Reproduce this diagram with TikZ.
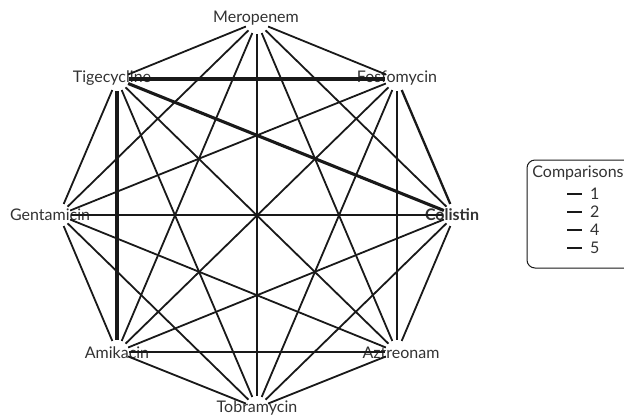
\documentclass[tikz,border=0pt]{standalone}
\usepackage{fontspec}
\setmainfont{Lato}
\usetikzlibrary{positioning}
\definecolor{edgeInk}{RGB}{25,25,25}
\definecolor{labelInk}{RGB}{50,50,50}

\begin{document}
\begin{tikzpicture}[x=1pt,y=-1pt,
    drug/.style={font=\fontsize{16}{19}\selectfont,text=labelInk,inner sep=0pt},
    edge/.style={edgeInk,line width=1.8pt,shorten <=12pt,shorten >=12pt},
    edgeTwo/.style={edge,line width=2.3pt},
    edgeFour/.style={edge,line width=3.1pt},
    edgeFive/.style={edge,line width=3.7pt},
    legbox/.style={draw=edgeInk,line width=1pt,rounded corners=8pt}]
  \clip (0,0) rectangle (624,416);

  % vertices of the network
  \coordinate (mero) at (257,22);
  \coordinate (fosf) at (397,79);
  \coordinate (coli) at (455,215);
  \coordinate (aztr) at (397,352);
  \coordinate (tobr) at (257,408);
  \coordinate (amik) at (117,352);
  \coordinate (gent) at (59,215);
  \coordinate (tige) at (117,79);

  % treatment labels
  \node[drug] (lmero) at (256,18) {Meropenem};
  \node[drug] (lfosf) at (397,78) {Fosfomycin};
  \node[drug,font=\fontsize{16}{19}\selectfont\bfseries] (lcoli) at (452,215) {Colistin};
  \node[drug] (laztr) at (401,353) {Aztreonam};
  \node[drug] (ltobr) at (257,408) {Tobramycin};
  \node[drug] (lamik) at (117,353) {Amikacin};
  \node[drug] (lgent) at (50,215) {Gentamicin};
  \node[drug] (ltige) at (112,78) {Tigecycline};

  % single comparisons
  \foreach \a/\b in {mero/tige,mero/fosf,mero/coli,mero/aztr,mero/tobr,mero/amik,mero/gent,
                     tige/aztr,tige/tobr,tige/gent,
                     fosf/tobr,fosf/amik,fosf/gent,
                     coli/aztr,coli/tobr,coli/amik,
                     aztr/tobr,aztr/gent,
                     tobr/amik,tobr/gent,amik/gent}
    \draw[edge] (\a) -- (\b);

  % repeated comparisons
  \draw[edgeTwo] (fosf) -- (coli);
  \draw[edgeTwo] (fosf) -- (aztr);
  \draw[edgeTwo] (gent) -- (coli);
  \draw[edgeTwo] (amik) -- (aztr);
  \draw[edgeFour] (tige) -- (coli);
  \draw[edgeFour] (tige) -- (amik);
  \draw[edgeFive] (tige) -- (fosf);

  % legend
  \draw[legbox] (527,160) rectangle (640,268);
  \node[drug] (legtitle) at (578,173) {Comparisons};
  \foreach \y/\n in {194/1,212/2,230/4,248/5}{
    \coordinate (dl\n) at (567,\y);
    \coordinate (dr\n) at (582,\y);
    \draw[edgeInk,line width=2pt] (dl\n) -- (dr\n);
    \node[drug,anchor=west] (num\n) at (590,\y) {\n};
  }
\end{tikzpicture}
\end{document}
